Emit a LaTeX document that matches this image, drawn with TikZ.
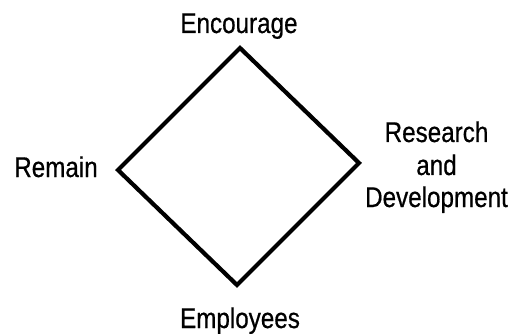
\documentclass[tikz,border=0pt]{standalone}
\usepackage{fontspec}
\setmainfont{Liberation Sans}[FakeStretch=0.85,FakeBold=0.6]
\begin{document}
\begin{tikzpicture}[x=1pt,y=-1pt,
  lbl/.style={anchor=base,inner sep=0pt,font=\fontsize{28.5}{32.5}\selectfont},
  edge/.style={line width=4.2pt,line join=miter}]
\useasboundingbox (0,0) rectangle (514,334);
\coordinate (t) at (240,48);
\coordinate (r) at (359,163);
\coordinate (b) at (237,285);
\coordinate (l) at (118,170);
\draw[edge] (t) -- (r) -- (b) -- (l) -- cycle;
\node[lbl] (enc) at (239,33) {Encourage};
\node[lbl] (rem) at (56,177) {Remain};
\node[lbl] (res1) at (436.5,142) {Research};
\node[lbl] (res2) at (436.5,175) {and};
\node[lbl] (res3) at (436.5,207) {Development};
\node[lbl] (emp) at (240,328) {Employees};
\end{tikzpicture}
\end{document}
